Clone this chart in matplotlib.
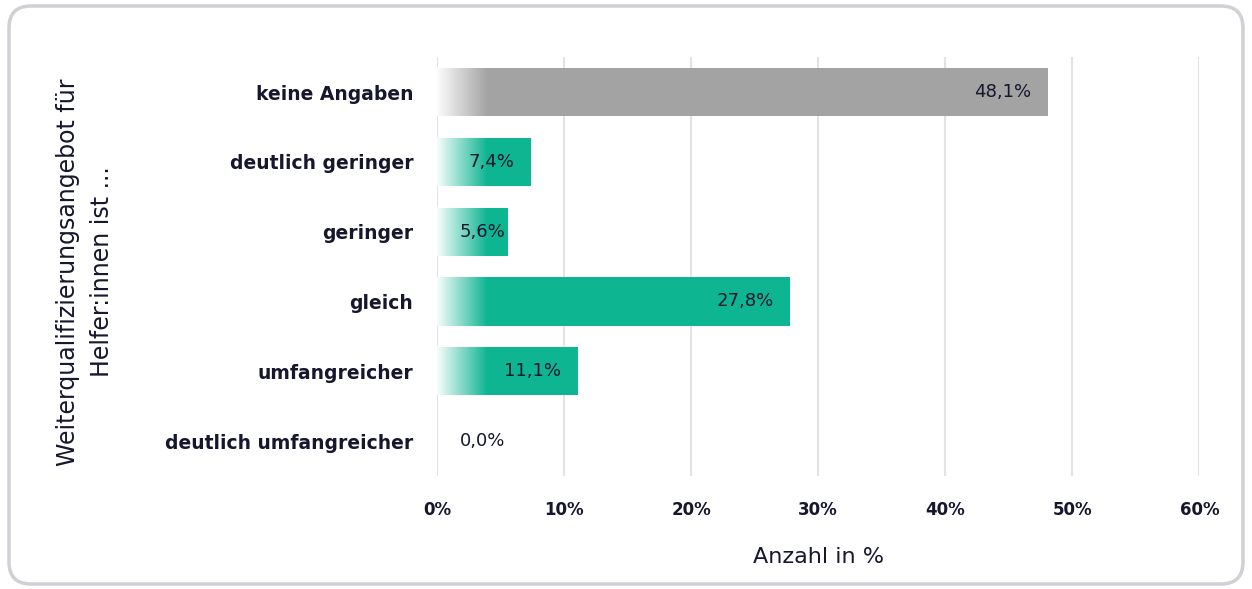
import numpy as np
import matplotlib.pyplot as plt
from matplotlib.patches import FancyBboxPatch

plt.rcParams['font.family'] = ['DejaVu Sans']

# Data
categories = ['keine Angaben', 'deutlich geringer', 'geringer', 'gleich',
              'umfangreicher', 'deutlich umfangreicher']
values = [48.1, 7.4, 5.6, 27.8, 11.1, 0.0]
bar_colors = ['#a2a3a2', '#0db591', '#0db591', '#0db591', '#0db591', '#0db591']
xticks = [0, 10, 20, 30, 40, 50, 60]

text_col = '#16162e'

fig = plt.figure(figsize=(12.52, 5.89), dpi=100)
ax = fig.add_axes([0.349, 0.192, 0.609, 0.711])

# outer rounded frame
frame = FancyBboxPatch((0.09, 0.05), 12.34, 5.78, boxstyle='round,pad=0,rounding_size=0.22',
                       transform=fig.dpi_scale_trans, fill=False, edgecolor='#d0d0d5',
                       linewidth=2.5, zorder=0)
fig.patches.append(frame)

y = np.arange(len(categories))
height = 0.69
ax.barh(y, values, height=height, color=bar_colors, zorder=2)

# white fade at left of each bar
fade = np.linspace(0.97, 0.0, 64).reshape(1, -1)
rgba = np.ones((1, 64, 4))
rgba[..., 3] = fade
for yi, v in zip(y, values):
    if v <= 0:
        continue
    w = min(4.0, v)
    ax.imshow(rgba[:, :int(64 * w / 4.0)] if w < 4 else rgba,
              extent=(0, w, yi + height / 2, yi - height / 2),
              aspect='auto', interpolation='bilinear', zorder=3)

# value labels
for yi, v in zip(y, values):
    xpos = max(v - 1.3, 5.35)
    ax.text(xpos, yi, f'{v:.1f}%'.replace('.', ','), ha='right', va='center',
            fontsize=13, color=text_col, zorder=4)

ax.set_xlim(0, 60)
ax.set_ylim(len(categories) - 0.5, -0.5)
ax.set_xticks(xticks)
ax.set_xticklabels([f'{t}%' for t in xticks], fontsize=12, fontweight='bold', color=text_col)
ax.set_yticks(y)
ax.set_yticklabels(categories, fontsize=13.5, fontweight='bold', color=text_col)
ax.tick_params(length=0, axis='y', pad=17)
ax.tick_params(length=0, axis='x', pad=18)
ax.grid(axis='x', color='#e3e3e6', linewidth=1.5, zorder=0)
ax.set_axisbelow(True)
for s in ax.spines.values():
    s.set_visible(False)

ax.set_xlabel('Anzahl in %', fontsize=16, color=text_col, labelpad=20)
fig.text(0.068, 0.538, 'Weiterqualifizierungsangebot für\nHelfer:innen ist ...', rotation=90,
         ha='center', va='center', fontsize=17, color=text_col, linespacing=1.5)

fig.savefig('out.png', dpi=100)
